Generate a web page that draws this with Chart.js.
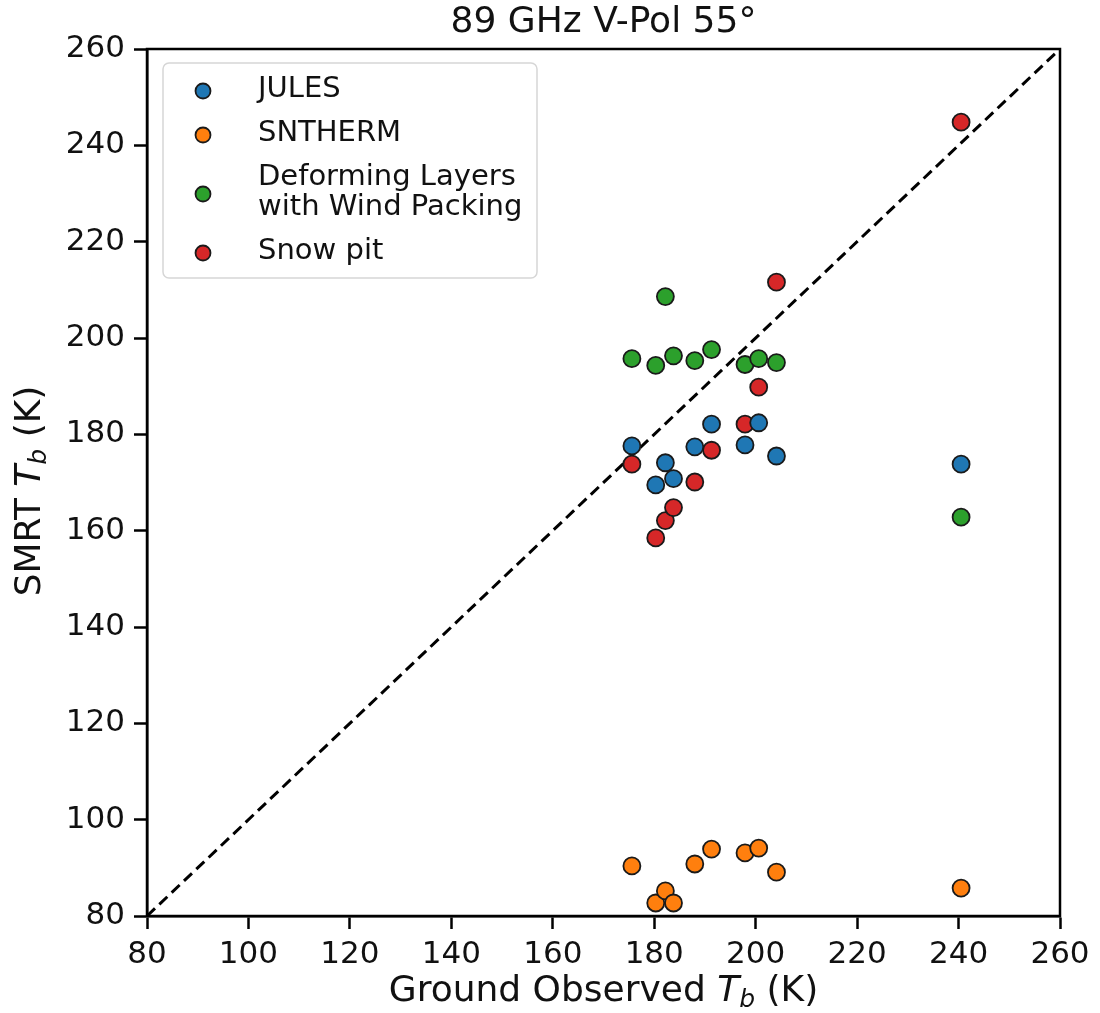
<!DOCTYPE html>
<html>
<head>
<meta charset="utf-8">
<script src="https://cdn.jsdelivr.net/npm/chart.js@4.4.1/dist/chart.umd.min.js"></script>
<style>
    html, body { margin: 0; padding: 0; background: #fff; }
</style>
</head>
<body>
<canvas id="chart" width="1100" height="1013"></canvas>
<script>
// Данные
const titleText = '89 GHz V-Pol 55°';
const observed = [175.6, 180.3, 182.2, 183.8, 188.0, 191.3, 197.9, 200.6, 204.1, 240.5];
const jules = [177.6, 169.5, 174.1, 170.8, 177.4, 182.1, 177.8, 182.4, 175.5, 173.8];
const sntherm = [90.4, 82.7, 85.2, 82.7, 90.8, 93.9, 93.1, 94.1, 89.1, 85.8];
const deforming = [195.7, 194.3, 208.6, 196.3, 195.3, 197.6, 194.5, 195.7, 194.9, 162.8];
const snowPit = [173.8, 158.5, 162.1, 164.8, 170.1, 176.7, 182.1, 189.8, 211.6, 244.8];
const seriesNames = ['JULES', 'SNTHERM', 'Deforming Layers\nwith Wind Packing', 'Snow pit'];
const seriesColors = ['#1f77b4', '#ff7f0e', '#2ca02c', '#d62728'];
const axisMin = 80;
const axisMax = 260;
const tickStep = 20;

const FONT = '"DejaVu Sans", sans-serif';
const TEXT = '#111';

// Собираем наборы точек
function toPoints(values) {
    return values.map((v, i) => ({ x: observed[i], y: v }));
}

const datasets = [jules, sntherm, deforming, snowPit].map((values, i) => ({
    label: seriesNames[i],
    data: toPoints(values),
    backgroundColor: seriesColors[i],
    borderColor: '#1a1a1a',
    borderWidth: 1.8,
    pointRadius: 8.5,
    pointHoverRadius: 8.5,
    order: 1
}));

// Линия 1:1
datasets.push({
    label: '1:1',
    data: [{ x: axisMin, y: axisMin }, { x: axisMax, y: axisMax }],
    type: 'line',
    showLine: true,
    borderColor: '#000',
    borderWidth: 3,
    borderDash: [11, 6],
    pointRadius: 0,
    fill: false,
    order: 10
});

// Текст с курсивом и индексом
function drawRich(ctx, parts, cx, cy) {
    let total = 0;
    parts.forEach(p => { ctx.font = p.font; p.w = ctx.measureText(p.text).width; total += p.w; });
    let x = cx - total / 2;
    ctx.textAlign = 'left';
    ctx.textBaseline = 'middle';
    parts.forEach(p => {
        ctx.font = p.font;
        ctx.fillText(p.text, x, cy + (p.dy || 0));
        x += p.w;
    });
}

function tbParts(before) {
    return [
        { text: before, font: '36px ' + FONT },
        { text: 'T', font: 'italic 36px ' + FONT },
        { text: 'b', font: 'italic 25px ' + FONT, dy: 8 },
        { text: ' (K)', font: '36px ' + FONT }
    ];
}

const decorPlugin = {
    id: 'decor',
    afterDraw(chart) {
        const ctx = chart.ctx;
        const a = chart.chartArea;
        ctx.save();

        // рамка
        ctx.strokeStyle = '#000';
        ctx.lineWidth = 2.5;
        ctx.strokeRect(a.left, a.top, a.right - a.left, a.bottom - a.top);

        ctx.fillStyle = TEXT;
        // заголовок
        ctx.font = '36px ' + FONT;
        ctx.textAlign = 'center';
        ctx.textBaseline = 'middle';
        ctx.fillText(titleText, (a.left + a.right) / 2, 23);

        // подписи осей
        drawRich(ctx, tbParts('Ground Observed '), (a.left + a.right) / 2, 992);
        ctx.save();
        ctx.translate(31, 491);
        ctx.rotate(-Math.PI / 2);
        drawRich(ctx, tbParts('SMRT '), 0, 0);
        ctx.restore();

        // легенда
        const bx = a.left + 16, by = a.top + 14, bw = 374, bh = 215, r = 6;
        ctx.beginPath();
        ctx.moveTo(bx + r, by);
        ctx.arcTo(bx + bw, by, bx + bw, by + bh, r);
        ctx.arcTo(bx + bw, by + bh, bx, by + bh, r);
        ctx.arcTo(bx, by + bh, bx, by, r);
        ctx.arcTo(bx, by, bx + bw, by, r);
        ctx.closePath();
        ctx.fillStyle = 'rgba(255,255,255,0.8)';
        ctx.fill();
        ctx.strokeStyle = '#d6d6d6';
        ctx.lineWidth = 1.5;
        ctx.stroke();

        let y = by + 26;
        ctx.font = '29px ' + FONT;
        ctx.textAlign = 'left';
        ctx.textBaseline = 'middle';
        chart.data.datasets.forEach(ds => {
            if (ds.type === 'line') return;
            const lines = ds.label.split('\n');
            const my = y + (lines.length - 1) * 30 / 2 + 2;
            ctx.beginPath();
            ctx.arc(bx + 40, my, 7.5, 0, Math.PI * 2);
            ctx.fillStyle = ds.backgroundColor;
            ctx.fill();
            ctx.strokeStyle = '#1a1a1a';
            ctx.lineWidth = 1.8;
            ctx.stroke();
            ctx.fillStyle = TEXT;
            lines.forEach((t, k) => ctx.fillText(t, bx + 95, y + k * 30));
            y += (lines.length - 1) * 30 + 44;
        });
        ctx.restore();
    }
};

function axis(extra, pad) {
    return Object.assign({
        type: 'linear',
        min: axisMin,
        max: axisMax,
        ticks: {
            stepSize: tickStep,
            color: TEXT,
            padding: pad,
            font: { family: FONT, size: 31 }
        },
        grid: {
            drawOnChartArea: false,
            drawTicks: true,
            tickLength: 13,
            tickWidth: 2.5,
            tickColor: '#000'
        },
        border: { color: '#000', width: 2.5 }
    }, extra);
}

new Chart(document.getElementById('chart').getContext('2d'), {
    type: 'scatter',
    data: { datasets: datasets },
    options: {
        responsive: false,
        animation: false,
        layout: { padding: { top: 49, right: 40, left: 0, bottom: 0 } },
        plugins: {
            legend: { display: false },
            tooltip: { enabled: false },
            title: { display: false }
        },
        scales: {
            x: axis({
                position: 'bottom',
                afterFit: scale => { scale.height = 97; }
            }, 7),
            y: axis({
                position: 'left',
                afterFit: scale => { scale.width = 147; }
            }, 9)
        }
    },
    plugins: [decorPlugin]
});
</script>
</body>
</html>
